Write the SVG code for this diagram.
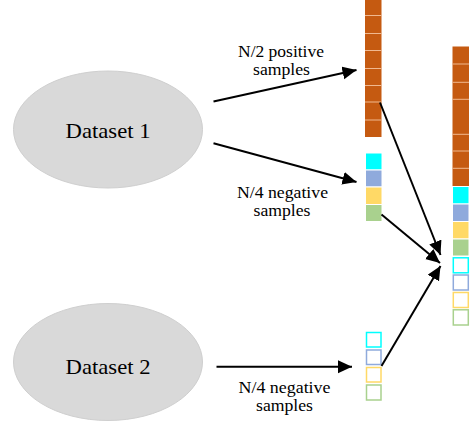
<svg xmlns="http://www.w3.org/2000/svg" width="475" height="425" viewBox="0 0 475 425">
<style>
.ell{fill:#D9D9D9;stroke:#CFCFCF;stroke-width:1}
.t{font-family:"Liberation Serif","Times New Roman",serif;fill:#000}
.big{font-size:22px}
.lbl{font-size:16px}
.brown{fill:#C55A11}
.sep{stroke:#F0B88F;stroke-width:1}
.cell{stroke:#FFFFFF;stroke-width:1}
.ob{fill:#FFFFFF;stroke-width:1.5}
.conn{stroke:#000;stroke-width:2;fill:none;marker-end:url(#ah)}
</style>
<defs>
<marker id="ah" markerUnits="userSpaceOnUse" markerWidth="16" markerHeight="14" refX="14" refY="6.5" orient="auto">
<path d="M0,0 L14,6.5 L0,13 Z" fill="#000"/>
</marker>
</defs>
<rect width="475" height="425" fill="#FFFFFF"/>

<g id="dataset1">
<ellipse class="ell" cx="108" cy="129.5" rx="94.5" ry="58.5"/>
<text class="t big" x="108" y="137.5" text-anchor="middle" textLength="85" lengthAdjust="spacingAndGlyphs">Dataset 1</text>
</g>

<g id="dataset2">
<ellipse class="ell" cx="108" cy="362" rx="94.5" ry="58.5"/>
<text class="t big" x="108" y="374" text-anchor="middle" textLength="85" lengthAdjust="spacingAndGlyphs">Dataset 2</text>
</g>

<g id="stack1">
<rect class="brown" x="365" y="-2" width="16.5" height="139"/>
<line class="sep" x1="365" x2="381.5" y1="15.5" y2="15.5"/>
<line class="sep" x1="365" x2="381.5" y1="33.5" y2="33.5"/>
<line class="sep" x1="365" x2="381.5" y1="50.5" y2="50.5"/>
<line class="sep" x1="365" x2="381.5" y1="68.5" y2="68.5"/>
<line class="sep" x1="365" x2="381.5" y1="85.5" y2="85.5"/>
<line class="sep" x1="365" x2="381.5" y1="102" y2="102"/>
<line class="sep" x1="365" x2="381.5" y1="120" y2="120"/>
</g>

<g id="stack2">
<rect class="cell" x="365.5" y="153" width="16.5" height="17" fill="#00FFFF"/>
<rect class="cell" x="365.5" y="170" width="16.5" height="17" fill="#8FAADC"/>
<rect class="cell" x="365.5" y="187" width="16.5" height="17.5" fill="#FFD966"/>
<rect class="cell" x="365.5" y="204.5" width="16.5" height="17" fill="#A9D18E"/>
</g>

<g id="stack3">
<rect class="ob" x="366.5" y="332.5" width="14.5" height="14.5" stroke="#00FFFF"/>
<rect class="ob" x="366.5" y="350" width="14.5" height="14.5" stroke="#8FAADC"/>
<rect class="ob" x="366.5" y="367.5" width="14.5" height="14.5" stroke="#FFD966"/>
<rect class="ob" x="366.5" y="385" width="14.5" height="15" stroke="#A9D18E"/>
</g>

<g id="merged">
<rect class="brown" x="452.5" y="46.5" width="16.5" height="140"/>
<line class="sep" x1="452.5" x2="469" y1="64" y2="64"/>
<line class="sep" x1="452.5" x2="469" y1="82.3" y2="82.3"/>
<line class="sep" x1="452.5" x2="469" y1="99.3" y2="99.3"/>
<line class="sep" x1="452.5" x2="469" y1="134.3" y2="134.3"/>
<line class="sep" x1="452.5" x2="469" y1="151" y2="151"/>
<line class="sep" x1="452.5" x2="469" y1="168.3" y2="168.3"/>
<rect class="cell" x="452.5" y="186.5" width="16.5" height="17.5" fill="#00FFFF"/>
<rect class="cell" x="452.5" y="204" width="16.5" height="17.5" fill="#8FAADC"/>
<rect class="cell" x="452.5" y="221.5" width="16.5" height="17.5" fill="#FFD966"/>
<rect class="cell" x="452.5" y="239" width="16.5" height="17" fill="#A9D18E"/>
<rect class="ob" x="453.3" y="257.8" width="15" height="15" stroke="#00FFFF"/>
<rect class="ob" x="453.3" y="275" width="15" height="15" stroke="#8FAADC"/>
<rect class="ob" x="453.3" y="292.5" width="15" height="15" stroke="#FFD966"/>
<rect class="ob" x="453.3" y="309.8" width="15" height="15.2" stroke="#A9D18E"/>
</g>

<g id="connectors">
<line class="conn" x1="213.5" y1="101.5" x2="356.5" y2="70"/>
<line class="conn" x1="213.5" y1="143.3" x2="356.5" y2="182"/>
<line class="conn" x1="216.5" y1="366.7" x2="352" y2="366.7"/>
<line class="conn" x1="380" y1="102.5" x2="440.5" y2="255"/>
<line class="conn" x1="381.5" y1="214.5" x2="440" y2="263"/>
<line class="conn" x1="381.5" y1="366" x2="440.5" y2="266"/>
</g>

<g id="labels">
<text class="t lbl" x="281" y="56.5" text-anchor="middle" textLength="86" lengthAdjust="spacingAndGlyphs">N/2 positive</text>
<text class="t lbl" x="281.5" y="74.5" text-anchor="middle" textLength="57" lengthAdjust="spacingAndGlyphs">samples</text>
<text class="t lbl" x="282.5" y="197.5" text-anchor="middle" textLength="91" lengthAdjust="spacingAndGlyphs">N/4 negative</text>
<text class="t lbl" x="282" y="215.5" text-anchor="middle" textLength="57" lengthAdjust="spacingAndGlyphs">samples</text>
<text class="t lbl" x="284.5" y="392.5" text-anchor="middle" textLength="92" lengthAdjust="spacingAndGlyphs">N/4 negative</text>
<text class="t lbl" x="284.5" y="410.5" text-anchor="middle" textLength="57" lengthAdjust="spacingAndGlyphs">samples</text>
</g>
</svg>
